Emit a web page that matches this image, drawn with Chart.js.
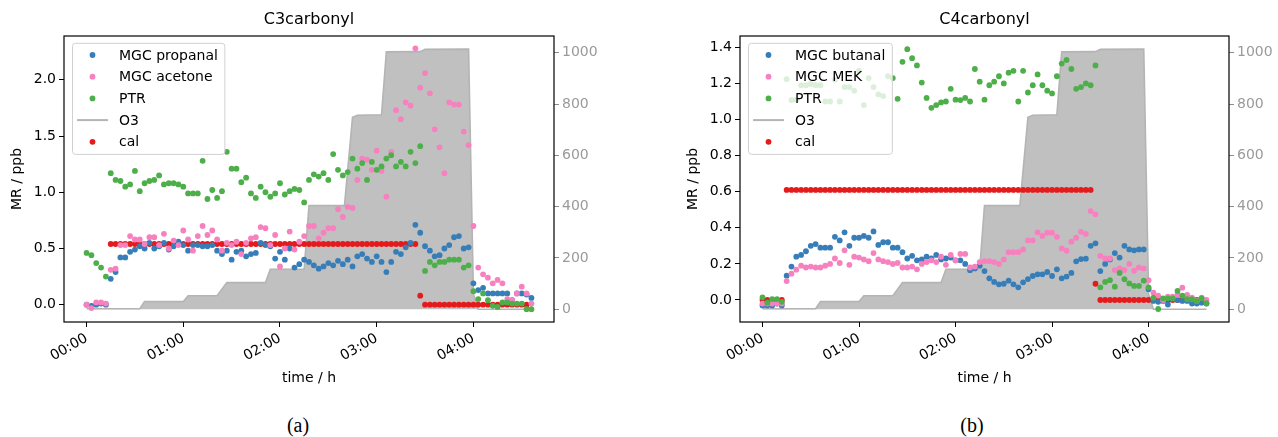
<!DOCTYPE html>
<html>
<head>
<meta charset="utf-8">
<script src="https://cdn.jsdelivr.net/npm/chart.js@4.4.1/dist/chart.umd.min.js"></script>
<style>
  body { margin: 0; background: #fff; }
  #wrap { position: relative; width: 1278px; height: 437px; overflow: hidden; }
  canvas { position: absolute; top: 0; }
  .caption { position: absolute; top: 414px; width: 60px; text-align: center; line-height: 24px;
             font: 20px "Liberation Serif", "DejaVu Serif", serif; color: #000; }
</style>
</head>
<body>
<div id="wrap">
  <canvas id="c3-chart" width="640" height="400" style="left:0"></canvas>
  <canvas id="c4-chart" width="638" height="400" style="left:640px"></canvas>
  <div class="caption" style="left:268px">(a)</div>
  <div class="caption" style="left:942px">(b)</div>
</div>
<script>
// sample times, minutes after start
const times = [
  0, 3, 6, 9, 12, 15, 18, 21, 24, 27, 30, 33, 36, 39, 42, 45, 48, 51, 54, 57,
  60, 63, 66, 69, 72, 75, 78, 81, 84, 87, 90, 93, 96, 99, 102, 105, 108, 111, 114, 117,
  120, 123, 126, 129, 132, 135, 138, 141, 144, 147, 150, 153, 156, 159, 162, 165, 168, 171, 174, 177,
  180, 183, 186, 189, 192, 195, 198, 201, 204, 207, 210, 213, 216, 219, 222, 225, 228, 231, 234, 237,
  240, 243, 246, 249, 252, 255, 258, 261, 264, 267, 270, 273, 276,
];

// C3 panel
const propanal = [
  0.00, -0.01, 0.00, 0.01, 0.00, 0.23, 0.29, 0.42, 0.42, 0.47, 0.49, 0.52, 0.50, 0.55, 0.50, 0.52, 0.55, 0.49, 0.52, 0.56,
  0.53, 0.48, 0.53, 0.53, 0.52, 0.52, 0.53, 0.48, 0.45, 0.48, 0.40, 0.47, 0.48, 0.43, 0.45, 0.46, 0.55, 0.53, 0.52, 0.41,
  0.47, 0.40, 0.50, 0.33, 0.36, 0.40, 0.38, 0.35, 0.32, 0.34, 0.37, 0.35, 0.39, 0.36, 0.40, 0.34, 0.43, 0.45, 0.41, 0.38,
  0.43, 0.38, 0.29, 0.38, 0.47, 0.45, 0.51, 0.55, 0.71, 0.64, 0.52, 0.48, 0.43, 0.44, 0.50, 0.53, 0.60, 0.61, 0.50, 0.51,
  0.19, 0.13, 0.15, 0.10, 0.10, 0.10, 0.10, 0.10, 0.04, 0.10, 0.10, 0.09, 0.06,
];
const acetone = [
  0.00, -0.03, 0.02, 0.02, 0.01, 0.31, 0.32, 0.53, 0.53, 0.61, 0.58, 0.58, 0.54, 0.60, 0.60, 0.53, 0.63, 0.50, 0.57, 0.53,
  0.66, 0.58, 0.48, 0.61, 0.70, 0.62, 0.66, 0.58, 0.48, 0.55, 0.53, 0.56, 0.45, 0.55, 0.59, 0.60, 0.69, 0.68, 0.53, 0.62,
  0.34, 0.50, 0.65, 0.49, 0.56, 0.61, 0.70, 0.70, 0.59, 0.64, 0.68, 0.68, 0.85, 0.78, 0.87, 0.86, 1.11, 1.30, 1.29, 1.20,
  1.37, 1.19, 0.96, 1.36, 1.73, 1.65, 1.80, 1.77, 2.28, 1.93, 2.06, 1.88, 1.56, 1.40, 1.17, 1.80, 1.78, 1.78, 1.54, 1.42,
  0.70, 0.33, 0.27, 0.24, 0.19, 0.22, 0.19, 0.05, 0.04, 0.10, 0.16, 0.10, 0.01,
];
const ptrC3 = [
  0.46, 0.44, 0.37, 0.33, 0.25, 1.17, 1.11, 1.10, 1.05, 1.07, 1.19, 1.01, 1.08, 1.10, 1.11, 1.15, 1.07, 1.08, 1.08, 1.07,
  1.05, 0.99, 0.99, 0.99, 1.28, 0.94, 1.02, 0.95, 1.01, 1.36, 1.21, 1.21, 1.09, 1.13, 0.99, 0.95, 1.05, 1.00, 0.96, 0.99,
  1.08, 0.98, 1.01, 1.03, 1.02, 0.91, 1.11, 1.16, 1.14, 1.17, 1.11, 1.34, 1.20, 1.15, 1.18, 1.30, 1.21, 1.26, 1.11, 1.27,
  1.20, 1.23, 1.30, 1.33, 1.23, 1.27, 1.23, 1.36, 1.26, 1.41, 0.30, 0.38, 0.35, 0.38, 0.38, 0.40, 0.40, 0.40, 0.33, 0.35,
  0.12, 0.05, 0.10, 0.04, -0.01, -0.02, 0.02, 0.02, 0.01, 0.01, 0.01, -0.04, -0.04,
];
const calC3 = [
  null, null, null, null, null, 0.54, 0.54, 0.54, 0.54, 0.54, 0.54, 0.54, 0.54, 0.54, 0.54, 0.54, 0.54, 0.54, 0.54, 0.54,
  0.54, 0.54, 0.54, 0.54, 0.54, 0.54, 0.54, 0.54, 0.54, 0.54, 0.54, 0.54, 0.54, 0.54, 0.54, 0.54, 0.54, 0.54, 0.54, 0.54,
  0.54, 0.54, 0.54, 0.54, 0.54, 0.54, 0.54, 0.54, 0.54, 0.54, 0.54, 0.54, 0.54, 0.54, 0.54, 0.54, 0.54, 0.54, 0.54, 0.54,
  0.54, 0.54, 0.54, 0.54, 0.54, 0.54, 0.54, 0.54, 0.54, 0.08, 0.00, 0.00, 0.00, 0.00, 0.00, 0.00, 0.00, 0.00, 0.00, 0.00,
  0.00, 0.00, 0.00, 0.00, 0.00, 0.00, 0.00, 0.00, 0.00, 0.00, 0.00, 0.00, null,
];

// C4 panel
const butanal = [
  -0.03, -0.03, -0.03, -0.02, -0.03, 0.135, 0.185, 0.24, 0.25, 0.27, 0.30, 0.31, 0.29, 0.29, 0.29, 0.35, 0.33, 0.375, 0.30, 0.345,
  0.345, 0.355, 0.345, 0.38, 0.305, 0.32, 0.32, 0.29, 0.29, 0.265, 0.23, 0.245, 0.22, 0.225, 0.24, 0.23, 0.25, 0.225, 0.23, 0.235,
  0.22, 0.22, 0.20, 0.165, 0.175, 0.19, 0.16, 0.12, 0.10, 0.087, 0.09, 0.107, 0.087, 0.07, 0.098, 0.116, 0.133, 0.142, 0.142, 0.155,
  0.133, 0.17, 0.12, 0.13, 0.15, 0.214, 0.227, 0.229, 0.30, 0.314, 0.16, 0.20, 0.225, 0.26, 0.235, 0.30, 0.28, 0.275, 0.28, 0.28,
  0.06, -0.005, -0.01, -0.005, -0.025, 0.005, 0.00, -0.005, -0.005, -0.02, -0.02, -0.015, -0.02,
];
const mek = [
  -0.02, -0.02, -0.02, -0.02, -0.02, 0.105, 0.146, 0.168, 0.19, 0.18, 0.185, 0.18, 0.18, 0.19, 0.20, 0.23, 0.205, 0.275, 0.195, 0.24,
  0.235, 0.225, 0.215, 0.26, 0.225, 0.215, 0.21, 0.20, 0.205, 0.18, 0.18, 0.185, 0.17, 0.20, 0.21, 0.22, 0.21, 0.24, 0.195, 0.25,
  0.22, 0.255, 0.255, 0.18, 0.185, 0.21, 0.215, 0.215, 0.21, 0.20, 0.225, 0.265, 0.265, 0.265, 0.28, 0.33, 0.33, 0.375, 0.355, 0.373,
  0.373, 0.35, 0.286, 0.273, 0.323, 0.345, 0.378, 0.366, 0.493, 0.475, 0.245, 0.23, 0.23, 0.166, 0.175, 0.166, 0.20, 0.162, 0.18, 0.175,
  0.11, 0.04, 0.024, 0.00, 0.018, 0.018, 0.028, 0.068, 0.028, 0.013, -0.004, 0.013, 0.00,
];
const ptrC4 = [
  0.015, -0.015, 0.005, 0.005, -0.01, 1.224, 1.108, 1.11, 1.19, 1.19, 1.197, 1.19, 1.19, 1.10, 1.10, 1.22, 1.10, 1.18, 1.18, 1.16,
  1.27, 1.08, 1.23, 1.18, 1.14, 1.13, 1.24, 1.23, 1.115, 1.32, 1.39, 1.34, 1.30, 1.205, 1.12, 1.065, 1.08, 1.095, 1.10, 1.17,
  1.11, 1.108, 1.12, 1.10, 1.28, 1.21, 1.11, 1.19, 1.21, 1.24, 1.20, 1.26, 1.27, 1.10, 1.27, 1.15, 1.19, 1.25, 1.19, 1.16,
  1.145, 1.24, 1.31, 1.33, 1.28, 1.17, 1.18, 1.20, 1.19, 1.30, 0.07, 0.10, 0.11, 0.074, 0.15, 0.115, 0.092, 0.078, 0.078, 0.107,
  0.07, 0.013, -0.05, 0.009, 0.009, 0.009, 0.05, 0.024, 0.004, 0.004, -0.006, 0.009, -0.018,
];
const calC4 = [
  0.00, 0.00, 0.00, 0.00, 0.00, 0.61, 0.61, 0.61, 0.61, 0.61, 0.61, 0.61, 0.61, 0.61, 0.61, 0.61, 0.61, 0.61, 0.61, 0.61,
  0.61, 0.61, 0.61, 0.61, 0.61, 0.61, 0.61, 0.61, 0.61, 0.61, 0.61, 0.61, 0.61, 0.61, 0.61, 0.61, 0.61, 0.61, 0.61, 0.61,
  0.61, 0.61, 0.61, 0.61, 0.61, 0.61, 0.61, 0.61, 0.61, 0.61, 0.61, 0.61, 0.61, 0.61, 0.61, 0.61, 0.61, 0.61, 0.61, 0.61,
  0.61, 0.61, 0.61, 0.61, 0.61, 0.61, 0.61, 0.61, 0.61, 0.09, 0.00, 0.00, 0.00, 0.00, 0.00, 0.00, 0.00, 0.00, 0.00, 0.00,
  0.00, 0.00, 0.00, 0.00, 0.00, 0.00, 0.00, 0.00, 0.00, 0.00, 0.00, 0.00, null,
];

// ozone steps (right axis, ppb)
const o3Times = [0, 33, 36, 60, 63, 81, 87, 111, 114, 135, 138, 160, 165, 168, 183, 186, 207, 210, 237, 240, 243, 276];
const o3Values = [2, 2, 30, 30, 53, 53, 104, 104, 156, 156, 404, 404, 748, 756, 758, 1003, 1004, 1013, 1014, 60, 0, 0];

// tick labels
const hourTicks = [0, 60, 120, 180, 240];
const hourLabels = ['00:00', '01:00', '02:00', '03:00', '04:00'];
const c3Ticks = [0, 0.5, 1.0, 1.5, 2.0];
const c4Ticks = [0, 0.2, 0.4, 0.6, 0.8, 1.0, 1.2, 1.4];
const o3Ticks = [0, 200, 400, 600, 800, 1000];

const BLUE = '#377eb8';
const PINK = '#f781bf';
const GREEN = '#4daf4a';
const RED = '#e41a1c';
const FONT = '"DejaVu Sans", sans-serif';

Chart.defaults.font.family = FONT;
Chart.defaults.font.size = 14;
Chart.defaults.color = '#000';

function points(values) {
  return times
    .map((t, i) => ({ x: t, y: values[i] }))
    .filter(p => p.y !== null);
}

function dots(label, values, color, order) {
  return {
    label,
    data: points(values),
    backgroundColor: color,
    borderColor: color,
    borderWidth: 0,
    pointRadius: 2.9,
    pointHoverRadius: 2.9,
    order,
  };
}

// frame round the plot area
const frame = {
  id: 'frame',
  afterDraw(chart) {
    const { ctx, chartArea: a } = chart;
    ctx.save();
    ctx.strokeStyle = '#000';
    ctx.lineWidth = 1.2;
    ctx.strokeRect(a.left, a.top, a.right - a.left, a.bottom - a.top);
    ctx.restore();
  },
};

// matplotlib-like legend drawn over the data, upper left
const insetLegend = {
  id: 'insetLegend',
  afterDatasetsDraw(chart) {
    const { ctx, chartArea } = chart;
    const items = chart.data.datasets;
    const rowH = 21.7;
    const x0 = chartArea.left + 8.5;
    const y0 = chartArea.top + 7.3;
    ctx.save();
    ctx.font = '14px ' + FONT;
    const textW = Math.max(...items.map(d => ctx.measureText(d.label).width));
    const w = 46.5 + textW + 7;
    const h = rowH * (items.length - 1) + 24.3;
    ctx.beginPath();
    ctx.roundRect(x0, y0, w, h, 3);
    ctx.fillStyle = 'rgba(255,255,255,0.8)';
    ctx.fill();
    ctx.strokeStyle = '#d0d0d0';
    ctx.lineWidth = 1;
    ctx.stroke();
    items.forEach((d, i) => {
      const cy = y0 + 11.7 + i * rowH;
      if (d.type === 'line') {
        ctx.strokeStyle = d.borderColor;
        ctx.lineWidth = 2;
        ctx.beginPath();
        ctx.moveTo(x0 + 4.6, cy);
        ctx.lineTo(x0 + 35.6, cy);
        ctx.stroke();
      } else {
        ctx.fillStyle = d.backgroundColor;
        ctx.beginPath();
        ctx.arc(x0 + 20, cy, 2.9, 0, Math.PI * 2);
        ctx.fill();
      }
      ctx.fillStyle = '#000';
      ctx.textBaseline = 'middle';
      ctx.fillText(d.label, x0 + 46.5, cy + 1);
    });
    ctx.restore();
  },
};

function renderPanel(id, opts) {
  const ctx = document.getElementById(id).getContext('2d');
  return new Chart(ctx, {
    type: 'scatter',
    data: {
      datasets: [
        dots(opts.names[0], opts.a, BLUE, 3),
        dots(opts.names[1], opts.b, PINK, 2),
        dots('PTR', opts.ptr, GREEN, 1),
        {
          type: 'line',
          label: 'O3',
          data: o3Times.map((t, i) => ({ x: t, y: o3Values[i] })),
          yAxisID: 'y1',
          borderColor: '#b4b4b4',
          borderWidth: 1.6,
          backgroundColor: '#c0c0c0',
          fill: 'origin',
          pointRadius: 0,
          tension: 0,
          order: 5,
        },
        dots('cal', opts.cal, RED, 4),
      ],
    },
    options: {
      responsive: false,
      animation: false,
      events: [],
      layout: { padding: 0 },
      plugins: {
        legend: { display: false },
        tooltip: { enabled: false },
        title: {
          display: true,
          text: opts.title,
          fullSize: false,
          font: { size: 16, weight: 'normal' },
          color: '#000',
          padding: { top: 10, bottom: 6.8 },
        },
      },
      scales: {
        x: {
          type: 'linear',
          min: -14,
          max: 290,
          afterFit: s => { s.height = 78; },
          afterBuildTicks: s => { s.ticks = hourTicks.map(v => ({ value: v })); },
          border: { display: false },
          grid: { drawOnChartArea: false, tickLength: 5, color: '#000' },
          ticks: {
            autoSkip: false,
            minRotation: 30,
            maxRotation: 30,
            padding: 3,
            callback: v => hourLabels[hourTicks.indexOf(v)],
          },
          title: {
            display: true,
            text: 'time / h',
            padding: { top: 0, bottom: 13.6 },
          },
        },
        y: {
          position: 'left',
          min: opts.yMin,
          max: opts.yMax,
          afterFit: s => { s.width = opts.leftW; },
          afterBuildTicks: s => { s.ticks = opts.yTicks.map(v => ({ value: v })); },
          border: { display: false },
          grid: { drawOnChartArea: false, tickLength: 5, color: '#000' },
          ticks: { padding: 3, callback: v => v.toFixed(1) },
          title: {
            display: true,
            text: 'MR / ppb',
            padding: { top: opts.yTitlePad, bottom: 0 },
          },
        },
        y1: {
          position: 'right',
          min: -49.5,
          max: 1065,
          afterFit: s => { s.width = opts.rightW; },
          afterBuildTicks: s => { s.ticks = o3Ticks.map(v => ({ value: v })); },
          border: { display: false },
          grid: { drawOnChartArea: false, tickLength: 5, color: '#8c8c8c' },
          ticks: { padding: 3, color: '#9a9a9a', callback: v => String(v) },
        },
      },
    },
    plugins: [insetLegend, frame],
  });
}

renderPanel('c3-chart', {
  title: 'C3carbonyl',
  names: ['MGC propanal', 'MGC acetone'],
  a: propanal,
  b: acetone,
  ptr: ptrC3,
  cal: calC3,
  yMin: -0.154,
  yMax: 2.39,
  yTicks: c3Ticks,
  leftW: 64,
  rightW: 86,
  yTitlePad: 8.6,
});

renderPanel('c4-chart', {
  title: 'C4carbonyl',
  names: ['MGC butanal', 'MGC MEK'],
  a: butanal,
  b: mek,
  ptr: ptrC4,
  cal: calC4,
  yMin: -0.122,
  yMax: 1.463,
  yTicks: c4Ticks,
  leftW: 100,
  rightW: 49,
  yTitlePad: 44.6,
});
</script>
</body>
</html>
